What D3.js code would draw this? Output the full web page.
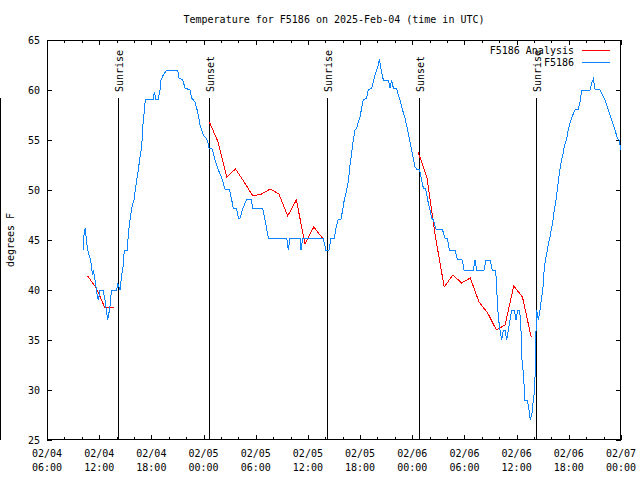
<!DOCTYPE html>
<html><head><meta charset="utf-8">
<script src="https://cdn.jsdelivr.net/npm/d3@7"></script>
<style>
body{margin:0;background:#fff;}
svg text{font-family:"DejaVu Sans Mono",monospace;font-size:10px;fill:#000;}
</style></head>
<body><svg id="c" width="640" height="480"></svg>
<script>
// hours since 2025-02-04 00:00 UTC
const title = "Temperature for F5186 on 2025-Feb-04 (time in UTC)";
const yLabel = "degrees F";
const yTicks = [25,30,35,40,45,50,55,60,65];
const xTickHours = [6,12,18,24,30,36,42,48,54,60,66,72];
const xTickLabels = [["02/04","06:00"],["02/04","12:00"],["02/04","18:00"],["02/05","00:00"],["02/05","06:00"],["02/05","12:00"],["02/05","18:00"],["02/06","00:00"],["02/06","06:00"],["02/06","12:00"],["02/06","18:00"],["02/07","00:00"]];
const sunEventHours = [14.20, 24.66, 38.20, 48.80, 62.22];
const sunEventNames = ["Sunrise","Sunset","Sunrise","Sunset","Sunrise"];
const seriesNames = ["F5186 Analysis","F5186"];

const anaHours = [10.67,11.67,12.67,13.67,
 24.67,25.67,26.67,27.67,28.67,29.67,30.67,31.67,32.67,33.67,34.67,35.67,36.67,37.67,
 48.67,49.67,50.67,51.67,52.67,53.67,54.67,55.67,56.67,57.67,58.67,59.67,60.67,61.67];
const anaTemps = [41.4,40.2,38.2,38.3,
 56.8,54.8,51.3,52.1,50.8,49.4,49.6,50.1,49.6,47.4,49.0,44.6,46.3,45.2,
 53.8,51.3,45.3,40.3,41.5,40.7,41.2,38.8,37.7,36.0,36.5,40.4,39.3,35.3];

const obsHours = [10.17,10.25,10.40,10.56,10.75,10.94,11.14,11.21,11.32,11.52,11.71,11.90,12.09,12.44,12.67,12.86,12.98,13.24,13.36,13.44,
 14.01,14.13,14.39,14.59,14.77,14.89,15.23,15.35,15.46,15.62,15.81,16.00,16.23,16.50,16.69,16.89,17.00,17.12,17.27,17.38,
 18.22,18.34,18.50,18.80,18.99,19.11,19.37,19.76,21.03,21.18,21.60,21.87,22.44,22.64,23.02,23.21,23.44,23.59,23.79,23.97,
 24.28,24.48,24.63,25.01,25.32,25.70,26.09,26.47,26.96,27.24,27.42,27.81,28.00,28.19,28.50,28.96,29.46,29.65,30.80,31.07,
 31.45,33.56,33.75,33.94,35.09,35.21,35.40,37.77,38.05,38.42,38.65,39.03,39.23,39.49,39.80,40.00,40.18,40.46,40.64,40.84,
 41.03,41.22,41.41,41.61,41.79,41.99,42.18,42.37,42.76,42.94,43.33,43.52,43.71,43.91,44.09,44.21,44.37,44.48,44.67,45.24,
 45.44,45.63,45.82,46.21,46.39,46.59,46.78,47.16,47.54,47.93,48.31,48.51,48.81,49.08,49.27,49.54,49.77,50.04,50.23,50.42,
 50.73,51.45,51.76,52.03,52.26,52.91,53.18,53.75,53.95,55.02,55.21,55.41,56.25,56.48,56.94,57.20,57.59,57.71,57.89,58.09,
 58.28,58.47,58.66,58.86,59.04,59.24,59.43,59.73,59.93,60.12,60.31,60.47,60.58,60.77,60.96,61.23,61.42,61.57,61.77,61.92,
 62.03,62.15,62.23,62.31,62.49,62.69,62.88,63.07,63.18,63.38,63.64,63.92,64.15,64.33,64.53,64.72,64.91,65.10,65.30,65.48,
 65.76,65.94,66.14,66.33,66.60,66.79,67.09,67.29,67.48,68.44,68.63,68.82,69.01,69.59,69.78,70.16,70.54,70.93,71.31,71.58,
 71.77,71.89,72.00];
const obsTemps = [44.0,45.5,46.2,44.7,43.7,43.2,42.3,41.5,42.0,41.0,39.8,39.0,40.0,40.0,39.0,37.7,37.0,38.3,39.5,40.0,
 40.0,40.7,40.0,41.5,42.5,44.0,44.0,45.5,46.5,47.5,48.5,49.0,50.5,52.0,53.3,54.3,56.3,57.3,58.7,59.1,
 59.1,59.8,59.1,59.1,60.0,61.0,61.5,62.0,62.0,61.2,61.0,60.2,60.0,59.2,58.8,58.2,57.3,56.5,56.0,55.5,
 55.2,54.8,54.2,54.1,53.0,52.0,51.2,50.1,50.1,49.0,48.2,48.1,47.2,47.2,48.1,49.1,49.1,48.2,48.2,47.0,
 45.2,45.2,44.0,45.2,45.2,44.0,45.2,45.2,44.0,44.0,45.2,45.2,46.2,47.1,47.1,48.0,49.0,50.0,50.8,52.5,
 53.7,55.0,56.0,56.2,56.8,57.3,58.2,59.0,59.2,60.0,60.2,60.8,61.5,62.0,62.5,63.1,62.3,61.8,61.0,61.0,
 60.2,61.0,60.2,60.1,59.5,59.0,58.3,57.2,55.7,54.0,52.3,52.1,52.1,51.0,50.2,50.1,49.0,48.0,47.2,47.0,
 46.1,46.1,45.2,45.2,44.0,44.0,43.1,43.0,42.0,42.0,43.0,42.0,42.0,43.0,43.0,42.0,42.0,40.0,37.3,36.0,
 35.0,36.0,36.0,35.0,36.0,37.0,38.0,38.0,37.0,38.0,38.0,37.0,33.3,31.7,29.0,29.0,28.0,27.0,27.7,29.0,
 29.7,32.0,36.0,38.0,37.0,38.0,39.3,40.5,42.3,43.3,44.5,45.7,46.8,48.0,49.0,50.3,51.7,52.7,53.5,54.3,
 55.2,56.0,56.7,57.2,57.8,58.1,58.1,58.8,60.0,60.0,60.7,61.1,60.1,60.0,59.7,59.0,58.0,57.0,56.0,55.2,
 55.0,54.5,54.0];

const base = Date.UTC(2025,1,4);
const toDate = h => new Date(base + h*3600e3);

const svg = d3.select("#c");
const L=47, R=621, T=40, B=440;
const x = d3.scaleUtc().domain([toDate(6), toDate(72)]).range([L,R]);
const y = d3.scaleLinear().domain([25,65]).range([B,T]);

// left edge artifact line
svg.append("line").attr("x1",0.5).attr("x2",0.5).attr("y1",98).attr("y2",440).attr("stroke","#000");

// title
svg.append("text").attr("x",(L+R)/2).attr("y",23).attr("text-anchor","middle").text(title);
svg.append("text").attr("transform","translate(14,240) rotate(-90)").attr("text-anchor","middle").text(yLabel);

const g = svg.append("g").attr("shape-rendering","crispEdges");
// y ticks
yTicks.forEach(v=>{
  const yy = Math.round(y(v))+0.5;
  g.append("line").attr("x1",L).attr("x2",L+5).attr("y1",yy).attr("y2",yy).attr("stroke","#000");
  g.append("line").attr("x1",R-5).attr("x2",R).attr("y1",yy).attr("y2",yy).attr("stroke","#000");
  svg.append("text").attr("x",40).attr("y",y(v)+4).attr("text-anchor","end").text(v);
});
// x minor ticks every 2h
d3.range(6,73,2).forEach(h=>{
  const major = (h%6===0);
  const len = major?5:3;
  const xx = Math.round(x(toDate(h)))+0.5;
  g.append("line").attr("x1",xx).attr("x2",xx).attr("y1",B).attr("y2",B-len).attr("stroke","#000");
  g.append("line").attr("x1",xx).attr("x2",xx).attr("y1",T).attr("y2",T+len).attr("stroke","#000");
});
xTickHours.forEach((h,i)=>{
  const xx = x(toDate(h));
  svg.append("text").attr("x",xx).attr("y",457).attr("text-anchor","middle").text(xTickLabels[i][0]);
  svg.append("text").attr("x",xx).attr("y",471).attr("text-anchor","middle").text(xTickLabels[i][1]);
});

// sun event lines
sunEventHours.forEach((h,i)=>{
  const xx = Math.round(x(toDate(h)))+0.5;
  g.append("line").attr("x1",xx).attr("x2",xx).attr("y1",98).attr("y2",B).attr("stroke","#000");
  svg.append("text").attr("transform",`translate(${xx+4},92) rotate(-90)`).attr("text-anchor","start").text(sunEventNames[i]);
});

// series
const anaData = anaHours.map((h,i)=>({d:toDate(h),v:anaTemps[i],h}));
const segs=[]; anaData.forEach((p,i)=>{ if(i===0||p.h-anaData[i-1].h>1.5) segs.push([]); segs[segs.length-1].push(p);});
const line = d3.line().x(p=>x(p.d)).y(p=>y(p.v));
segs.forEach(s=>svg.append("path").attr("d",line(s)).attr("fill","none").attr("stroke","#ff0000").attr("stroke-width",1).attr("shape-rendering","crispEdges"));
const obsData = obsHours.map((h,i)=>({d:toDate(h),v:obsTemps[i]}));
svg.append("path").attr("d",line(obsData)).attr("fill","none").attr("stroke","#0a84ff").attr("stroke-width",1).attr("shape-rendering","crispEdges");

// legend
svg.append("text").attr("x",574).attr("y",54).attr("text-anchor","end").text(seriesNames[0]);
g.append("line").attr("x1",582).attr("x2",610).attr("y1",50.5).attr("y2",50.5).attr("stroke","#ff0000");
svg.append("text").attr("x",574).attr("y",66).attr("text-anchor","end").text(seriesNames[1]);
g.append("line").attr("x1",582).attr("x2",610).attr("y1",62.5).attr("y2",62.5).attr("stroke","#0a84ff");

// frame
g.append("rect").attr("x",L+0.5).attr("y",T+0.5).attr("width",R-L-1).attr("height",B-T-1).attr("fill","none").attr("stroke","#000");
</script></body></html>
